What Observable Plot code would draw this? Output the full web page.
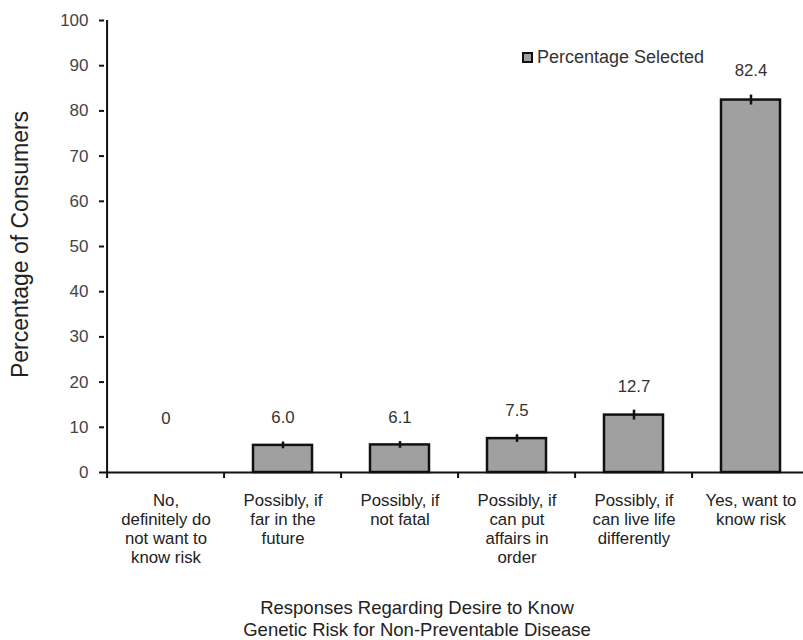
<!DOCTYPE html>
<html>
<head>
<meta charset="utf-8">
<script src="https://cdn.jsdelivr.net/npm/d3@7"></script>
<script src="https://cdn.jsdelivr.net/npm/@observablehq/plot@0.6"></script>
<style>
  html, body { margin: 0; padding: 0; background: #fff; overflow: hidden; }
  #wrap { position: relative; width: 803px; height: 640px; font-family: "Liberation Sans", Arial, sans-serif; }
  #legend { position: absolute; left: 522px; top: 46px; height: 22px; display: flex; align-items: center; font-size: 18px; color: #333; }
  #legend .sw { width: 7px; height: 7px; background: #a0a0a0; border: 2.5px solid #111; margin-right: 4px; }
</style>
</head>
<body>
<div id="wrap"><div id="legend"><div class="sw"></div><span>Percentage Selected</span></div></div>
<script>
const categories = [
  "No,\ndefinitely do\nnot want to\nknow risk",
  "Possibly, if\nfar in the\nfuture",
  "Possibly, if\nnot fatal",
  "Possibly, if\ncan put\naffairs in\norder",
  "Possibly, if\ncan live life\ndifferently",
  "Yes, want to\nknow risk"
];
const values = [0, 6.0, 6.1, 7.5, 12.7, 82.4];
const errors = [0, 0.75, 0.75, 0.85, 1.1, 1.1];
const valueLabels = ["0", "6.0", "6.1", "7.5", "12.7", "82.4"];
const yTicks = [0, 10, 20, 30, 40, 50, 60, 70, 80, 90, 100];

const data = categories.map((c, i) => ({cat: c, value: values[i], err: errors[i], label: valueLabels[i]}));
const nonZero = data.filter(d => d.value > 0);

const left = 104, right = 811;
const step = (right - left) / categories.length;
const capInset = step / 4 - 4;

const chart = Plot.plot({
  width: 803,
  height: 640,
  marginTop: 20,
  marginBottom: 168,
  marginLeft: left,
  marginRight: 0,
  style: {fontFamily: "'Liberation Sans', Arial, sans-serif", background: "white", overflow: "visible"},
  x: {domain: categories, range: [left, right], paddingInner: 0.5, paddingOuter: 0.25, axis: null},
  y: {domain: [0, 100], axis: null},
  marks: [
    Plot.barY(nonZero, {x: "cat", y: "value", fill: "#a0a0a0", stroke: "#111", strokeWidth: 2.5}),
    Plot.ruleX(nonZero, {x: "cat", y1: d => d.value - d.err, y2: d => d.value + d.err, stroke: "#111", strokeWidth: 2.5}),
    Plot.ruleY(nonZero, {x: "cat", y: d => d.value - d.err, stroke: "#111", strokeWidth: 3, insetLeft: capInset, insetRight: capInset}),
    Plot.ruleY(nonZero, {x: "cat", y: d => d.value + d.err, stroke: "#111", strokeWidth: 3, insetLeft: capInset, insetRight: capInset}),
    Plot.text(data, {x: "cat", y: d => Math.max(d.value + d.err, 6.6), text: "label", dy: -24, fontSize: 16.8, fill: "#333"}),
    Plot.axisY({ticks: yTicks, label: null, tickSize: 5, tickPadding: 11, fontSize: 17, fill: "#444", stroke: "#111", strokeWidth: 2}),
    Plot.ruleX([categories[0]], {x: d => d, dx: -step / 2, y1: 0, y2: 100, stroke: "#111", strokeWidth: 2}),
    Plot.ruleY([0], {stroke: "#111", strokeWidth: 2}),
    Plot.ruleX(categories, {x: d => d, dx: -step / 2, y1: 0, y2: -6 / 4.52, stroke: "#111", strokeWidth: 2}),
    Plot.text(data, {x: "cat", y: 0, text: "cat", lineAnchor: "top", dy: 20, fontSize: 16.8, lineHeight: 1.13, fill: "#222"}),
    Plot.text(["Percentage of Consumers"], {frameAnchor: "left", textAnchor: "middle", text: d => d, rotate: -90, dx: -84, dy: -2, fontSize: 23, fill: "#222"}),
    Plot.text(["Responses Regarding Desire to Know\nGenetic Risk for Non-Preventable Disease"], {frameAnchor: "bottom", text: d => d, dy: 145, dx: -37, lineAnchor: "middle", fontSize: 18.5, lineHeight: 1.19, fill: "#222"})
  ]
});
document.getElementById("wrap").prepend(chart);
</script>
</body>
</html>
